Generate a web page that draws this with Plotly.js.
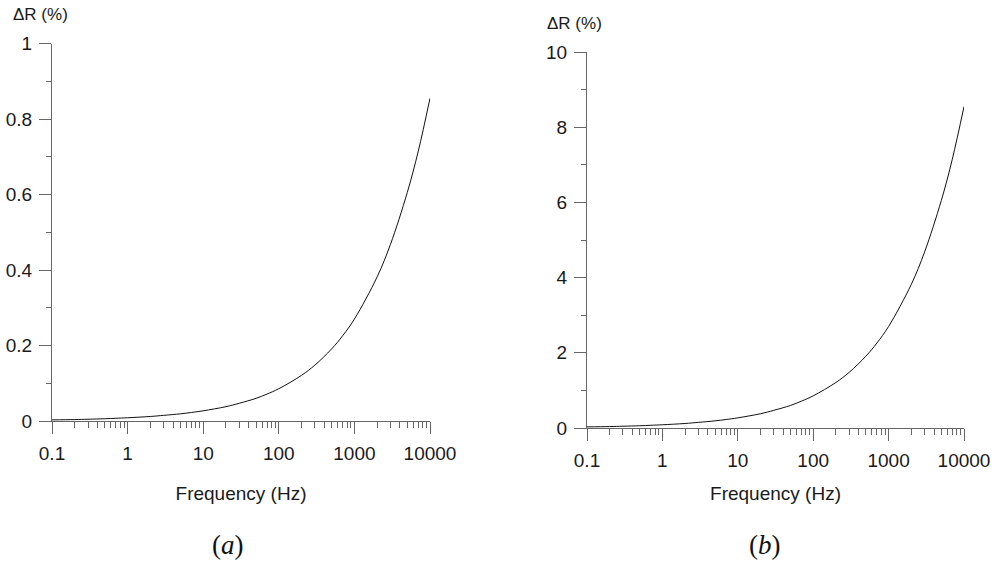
<!DOCTYPE html>
<html>
<head>
<meta charset="utf-8">
<script src="https://cdn.plot.ly/plotly-3.0.1.min.js"></script>
<style>html,body{margin:0;padding:0;background:#fff;}#chart{width:993px;height:561px;}</style>
</head>
<body>
<div id="chart"></div>
<script>
// Frequency (Hz) sample points
const freqA = [0.1, 0.2, 0.3, 0.5, 0.7, 1, 2, 3, 5, 7, 10, 20, 30, 50, 70, 100, 200, 300, 500, 700, 1000, 2000, 3000, 5000, 7000, 10000];
// ΔR (%) panel (a)
const deltaRA = [0.003, 0.0038, 0.0047, 0.006, 0.0072, 0.0086, 0.012, 0.015, 0.019, 0.0226, 0.027, 0.038, 0.047, 0.06, 0.0715, 0.0855, 0.121, 0.148, 0.191, 0.226, 0.27, 0.382, 0.468, 0.605, 0.715, 0.855];
const freqB = [0.1, 0.2, 0.3, 0.5, 0.7, 1, 2, 3, 5, 7, 10, 20, 30, 50, 70, 100, 200, 300, 500, 700, 1000, 2000, 3000, 5000, 7000, 10000];
// ΔR (%) panel (b)
const deltaRB = [0.03, 0.038, 0.047, 0.06, 0.072, 0.086, 0.12, 0.15, 0.19, 0.226, 0.27, 0.38, 0.47, 0.6, 0.715, 0.855, 1.21, 1.48, 1.91, 2.26, 2.7, 3.82, 4.68, 6.05, 7.15, 8.55];

const xTickVals = [0.1, 1, 10, 100, 1000, 10000];
const xTickText = ['0.1', '1', '10', '100', '1000', '10000'];
const yTicksA = [0, 0.2, 0.4, 0.6, 0.8, 1];
const yTicksB = [0, 2, 4, 6, 8, 10];

const minorX = [];
for (let d = -1; d < 4; d++) {
  for (let k = 2; k <= 9; k++) minorX.push(k * Math.pow(10, d));
}

const sans = 'Liberation Sans, Arial, sans-serif';
const tickFont = {family: sans, size: 19, color: '#1a1a1a'};
const titleFont = {family: sans, size: 19, color: '#1a1a1a'};
const axisColor = '#666';

function xAxis(domain, anchor, standoff) {
  return {
    type: 'log', range: [-1, 4], domain: domain, anchor: anchor,
    tickmode: 'array', tickvals: xTickVals, ticktext: xTickText,
    ticks: 'outside', ticklen: 12, tickwidth: 1, tickcolor: axisColor,
    showline: true, linecolor: axisColor, linewidth: 1,
    showgrid: false, zeroline: false, tickfont: tickFont, ticklabelstandoff: 3,
    minor: {tickmode: 'array', tickvals: minorX, ticks: 'outside', ticklen: 6, tickwidth: 1, tickcolor: axisColor, showgrid: false},
    title: {text: 'Frequency (Hz)', font: titleFont, standoff: standoff},
    automargin: false, fixedrange: true
  };
}
function yAxis(domain, anchor, range, vals, minorDt) {
  return {
    range: range, domain: domain, anchor: anchor,
    tickmode: 'array', tickvals: vals, ticktext: vals.map(String),
    ticks: 'outside', ticklen: 12, tickwidth: 1, tickcolor: axisColor,
    showline: true, linecolor: axisColor, linewidth: 1,
    showgrid: false, zeroline: false, tickfont: tickFont, ticklabelstandoff: 3,
    minor: {dtick: minorDt, ticks: 'outside', ticklen: 5, tickwidth: 1, tickcolor: axisColor, showgrid: false},
    automargin: false, fixedrange: true
  };
}

const W = 993, H = 561;
const data = [
  {x: freqA, y: deltaRA, xaxis: 'x', yaxis: 'y', mode: 'lines', line: {color: '#111', width: 1, shape: 'spline', smoothing: 1}, hoverinfo: 'skip'},
  {x: freqB, y: deltaRB, xaxis: 'x2', yaxis: 'y2', mode: 'lines', line: {color: '#111', width: 1, shape: 'spline', smoothing: 1}, hoverinfo: 'skip'}
];

const layout = {
  width: W, height: H,
  margin: {l: 0, r: 0, t: 0, b: 0},
  paper_bgcolor: '#fff', plot_bgcolor: '#fff',
  showlegend: false,
  xaxis: xAxis([52 / W, 430 / W], 'y', 23),
  yaxis: yAxis([(H - 421) / H, (H - 43.5) / H], 'x', [0, 1], yTicksA, 0.1),
  xaxis2: xAxis([587 / W, 964 / W], 'y2', 16),
  yaxis2: yAxis([(H - 428) / H, (H - 52) / H], 'x2', [0, 10], yTicksB, 1),
  annotations: [
    {text: 'ΔR (%)', xref: 'paper', yref: 'paper', x: 11 / W, y: 1 - 15 / H, xanchor: 'left', yanchor: 'middle', showarrow: false, font: {family: sans, size: 17, color: '#1a1a1a'}},
    {text: 'ΔR (%)', xref: 'paper', yref: 'paper', x: 545 / W, y: 1 - 23 / H, xanchor: 'left', yanchor: 'middle', showarrow: false, font: {family: sans, size: 17, color: '#1a1a1a'}},
    {text: '(<i>a</i>)', xref: 'paper', yref: 'paper', x: 228 / W, y: 1 - 545 / H, xanchor: 'center', yanchor: 'middle', showarrow: false, font: {family: 'Liberation Serif, Times New Roman, serif', size: 27, color: '#111'}},
    {text: '(<i>b</i>)', xref: 'paper', yref: 'paper', x: 765 / W, y: 1 - 545 / H, xanchor: 'center', yanchor: 'middle', showarrow: false, font: {family: 'Liberation Serif, Times New Roman, serif', size: 27, color: '#111'}}
  ]
};

Plotly.newPlot('chart', data, layout, {staticPlot: true, displayModeBar: false});
</script>
</body>
</html>
